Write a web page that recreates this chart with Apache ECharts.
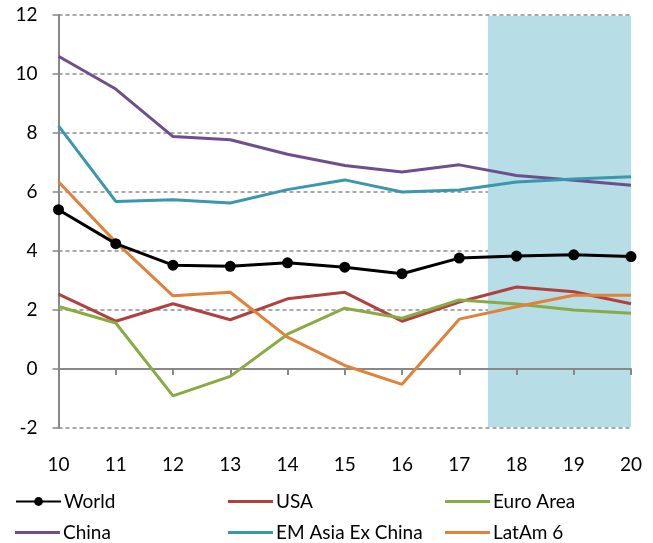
<!DOCTYPE html>
<html>
<head>
<meta charset="utf-8">
<script src="https://cdn.jsdelivr.net/npm/echarts@6/dist/echarts.min.js"></script>
<style>
  html, body { margin: 0; padding: 0; background: #fff; }
  #chart { width: 653px; height: 543px; }
</style>
</head>
<body>
<div id="chart"></div>
<script>
// Years (two-digit) along the horizontal axis
const years = [10, 11, 12, 13, 14, 15, 16, 17, 18, 19, 20];

// Growth rates, %
const world      = [5.40, 4.25, 3.52, 3.48, 3.60, 3.45, 3.23, 3.76, 3.83, 3.87, 3.81];
const usa        = [2.54, 1.62, 2.21, 1.67, 2.38, 2.60, 1.62, 2.27, 2.78, 2.62, 2.21];
const euroArea   = [2.12, 1.56, -0.91, -0.25, 1.18, 2.06, 1.72, 2.34, 2.20, 2.00, 1.89];
const china      = [10.60, 9.49, 7.88, 7.77, 7.28, 6.90, 6.68, 6.92, 6.56, 6.40, 6.23];
const emAsiaExCn = [8.24, 5.68, 5.74, 5.63, 6.08, 6.41, 6.00, 6.07, 6.34, 6.44, 6.52];
const latAm6     = [6.35, 4.30, 2.48, 2.60, 1.08, 0.12, -0.52, 1.69, 2.11, 2.50, 2.50];

// Forecast window (shaded)
const forecastFrom = 17.5;
const forecastTo = 20;

const FONT = 'Lato, "Open Sans", sans-serif';

const chart = echarts.init(document.getElementById('chart'));

const pairs = arr => years.map((y, i) => [y, arr[i]]);

function lineSeries(name, data, color) {
  return {
    name, type: 'line', data: pairs(data), z: 3,
    xAxisIndex: 0,
    symbol: 'none',
    lineStyle: { color, width: 3 },
    itemStyle: { color }
  };
}

// one legend entry per component so the three columns line up
function legendItem(name, left, top, isWorld) {
  const base = {
    left, top, padding: 0, itemGap: 0, itemWidth: 45,
    textStyle: { color: '#000', fontSize: 19, fontFamily: FONT, padding: [0, 0, 0, -2] }
  };
  if (isWorld) {
    return Object.assign(base, { data: [name], itemHeight: 11 });
  }
  return Object.assign(base, { data: [{ name, icon: 'rect' }], itemHeight: 3 });
}

const axisBase = { type: 'value', min: 10, max: 20, interval: 1, position: 'bottom' };

chart.setOption({
  animation: false,
  grid: { left: 58.5, right: 22, top: 15, bottom: 115, containLabel: false },
  xAxis: [
    Object.assign({}, axisBase, {
      axisLine: { show: false, onZero: false },
      axisTick: { show: false },
      splitLine: { show: false },
      axisLabel: { color: '#000', fontSize: 19, fontFamily: FONT, margin: 27 }
    }),
    Object.assign({}, axisBase, {
      z: 2,
      axisLine: { show: true, onZero: true, lineStyle: { color: '#888', width: 2 } },
      axisTick: { show: true, length: 6, lineStyle: { color: '#888', width: 2 } },
      axisLabel: { show: false },
      splitLine: { show: false }
    })
  ],
  yAxis: {
    type: 'value', min: -2, max: 12, interval: 2,
    axisLine: { show: true, lineStyle: { color: '#888', width: 2 } },
    axisTick: { show: true, length: 6, lineStyle: { color: '#888', width: 1.5 } },
    splitLine: { show: true, lineStyle: { color: '#8c8c8c', type: [4, 3], width: 1.5 } },
    axisLabel: { color: '#000', fontSize: 19, fontFamily: FONT, margin: 21 }
  },
  legend: [
    legendItem('World', 15, 492, true),
    legendItem('USA', 228, 492, false),
    legendItem('Euro Area', 445, 492, false),
    legendItem('China', 15, 523, false),
    legendItem('EM Asia Ex China', 228, 523, false),
    legendItem('LatAm 6', 445, 523, false)
  ],
  series: [
    {
      name: 'forecast', type: 'line', data: [], z: 1, xAxisIndex: 0,
      markArea: {
        silent: true,
        itemStyle: { color: '#b7dde7' },
        data: [[{ xAxis: forecastFrom, yAxis: 11.97 }, { xAxis: forecastTo, yAxis: -1.97 }]]
      }
    },
    {
      name: 'World', type: 'line', data: pairs(world), z: 4, xAxisIndex: 0,
      symbol: 'circle', symbolSize: 11, showAllSymbol: true,
      lineStyle: { color: '#000', width: 3 },
      itemStyle: { color: '#000' }
    },
    lineSeries('USA', usa, '#b0413e'),
    lineSeries('Euro Area', euroArea, '#8aaa45'),
    lineSeries('China', china, '#6e4f8e'),
    lineSeries('EM Asia Ex China', emAsiaExCn, '#3a97ad'),
    lineSeries('LatAm 6', latAm6, '#e0823a')
  ]
});
</script>
</body>
</html>
